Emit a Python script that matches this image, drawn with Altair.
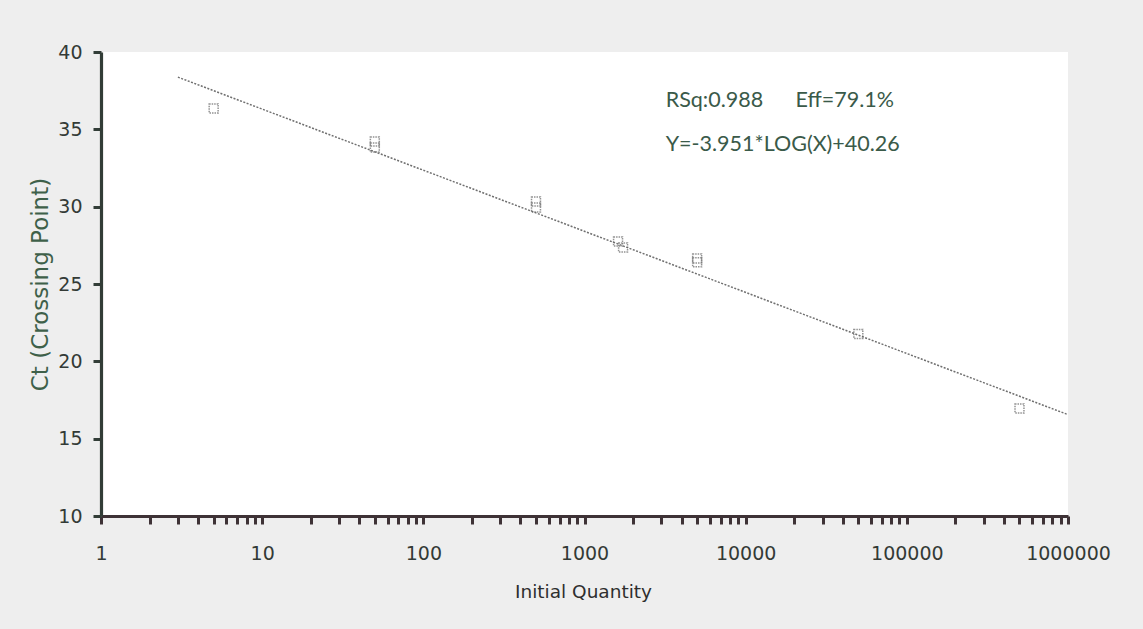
import math
import altair as alt
import pandas as pd

# Standard-curve replicates: initial quantity vs. crossing point
quantity = [5, 50, 50, 500, 500, 1615, 1735, 5000, 5000, 50000, 500000]
ct = [36.35, 34.21, 33.82, 30.34, 29.95, 27.75, 27.36, 26.65, 26.4, 21.77, 16.95]

# Fit reported on the chart
slope = -3.951
intercept = 40.26
fit_range = [3, 1000000]

# Annotation texts
note_text = ["RSq:0.988", "Eff=79.1%", "Y=-3.951*LOG(X)+40.26"]
note_x = [3190, 20400, 3190]
note_y = [36.8, 36.8, 34.0]

# Axis ticks
x_ticks = [m * 10 ** d for d in range(6) for m in range(1, 10)] + [1000000]
y_ticks = [10 + 2.5 * i for i in range(13)]

points = pd.DataFrame({"q": quantity, "ct": ct})
fit = pd.DataFrame({"q": fit_range,
                    "ct": [slope * math.log10(v) + intercept for v in fit_range]})
notes = pd.DataFrame({"q": note_x, "ct": note_y, "t": note_text})

x_scale = alt.Scale(type="log", domain=[1, 1000000], nice=False)
y_scale = alt.Scale(domain=[10, 40], nice=False, zero=False)

x_axis = alt.Axis(
    title="Initial Quantity",
    values=x_ticks,
    labelExpr="datum.value == pow(10, round(log(datum.value) / LN10)) ? format(datum.value, 'd') : ''",
    grid=False,
    domainColor="#3e3236", domainWidth=3.2,
    tickColor="#3e3236", tickWidth=3, tickSize=8,
    labelFont="DejaVu Sans", labelFontSize=19, labelColor="#333a36",
    labelPadding=20, labelAlign="center", labelBaseline="top",
    labelOverlap=False, labelFlush=False,
    titleFont="DejaVu Sans", titleFontSize=18.5, titleFontWeight="normal",
    titleColor="#2e2e2e", titleX=482, titleY=81, titleBaseline="alphabetic",
)
y_axis = alt.Axis(
    title="Ct (Crossing Point)",
    values=y_ticks,
    labelExpr="datum.value % 5 == 0 ? format(datum.value, 'd') : ''",
    grid=False,
    domainColor="#323d37", domainWidth=3.2,
    tickColor="#323d37", tickWidth=3, tickSize=8,
    labelFont="DejaVu Sans", labelFontSize=19, labelColor="#333a36",
    labelPadding=11, labelOverlap=False, labelFlush=False,
    titleFont="DejaVu Sans", titleFontSize=23, titleFontWeight="normal",
    titleColor="#3e6049", titleX=-54, titleY=232, titleBaseline="alphabetic",
    titleAngle=270,
)

line = alt.Chart(fit).mark_line(
    color="#707070", strokeWidth=1.5, strokeDash=[2, 1.5]
).encode(
    x=alt.X("q:Q", scale=x_scale, axis=x_axis),
    y=alt.Y("ct:Q", scale=y_scale, axis=y_axis),
)

pts = alt.Chart(points).mark_point(
    shape="square", size=80, filled=False, color="#666666",
    strokeWidth=1.5, strokeDash=[1.5, 1]
).encode(
    x=alt.X("q:Q", scale=x_scale),
    y=alt.Y("ct:Q", scale=y_scale),
)

labels = alt.Chart(notes).mark_text(
    align="left", baseline="middle", font="Lato", fontSize=21.5, color="#3a5a49"
).encode(
    x=alt.X("q:Q", scale=x_scale),
    y=alt.Y("ct:Q", scale=y_scale),
    text="t:N",
)

chart = alt.layer(line, pts, labels).properties(
    width=967, height=464,
    padding={"left": 101, "top": 52, "right": 75, "bottom": 113},
    autosize=alt.AutoSizeParams(type="none"),
    background="#eeeeee",
).configure_view(
    fill="white", stroke=None
)

chart.save("out.html", embed_options={"renderer": "svg", "actions": False})
